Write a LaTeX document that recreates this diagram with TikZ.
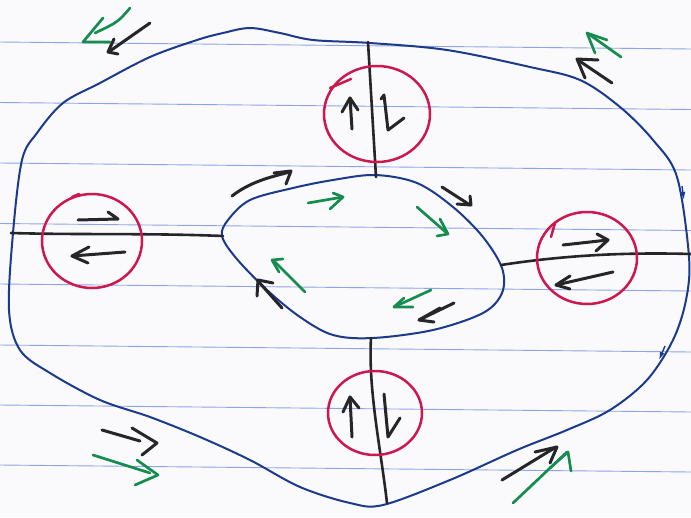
\documentclass[tikz,border=0pt]{standalone}
\usetikzlibrary{arrows.meta}
\definecolor{paper}{RGB}{250,250,252}
\definecolor{ruling}{RGB}{140,165,232}
\definecolor{loopblue}{RGB}{28,58,140}
\definecolor{ringred}{RGB}{204,24,78}
\definecolor{inkblack}{RGB}{38,38,40}
\definecolor{inkgreen}{RGB}{22,140,78}
\tikzset{
  ruleline/.style={draw=ruling, line width=0.9pt},
  loopline/.style={draw=loopblue, line width=2pt, line cap=round, line join=round},
  cutline/.style={draw=inkblack, line width=2.6pt, line cap=round},
  ring/.style={draw=ringred, line width=2.5pt, line cap=round},
  blk/.style={draw=inkblack, line width=3pt, line cap=round, line join=round},
  grn/.style={draw=inkgreen, line width=2.7pt, line cap=round, line join=round},
  tick/.style={draw=loopblue, line width=1.4pt, -{Latex[length=8pt,width=5pt]}}
}
\begin{document}
\begin{tikzpicture}[x=1pt,y=-1pt]
% sheet of ruled paper
\fill[paper] (0,0) rectangle (691,517);
\useasboundingbox (0,0) rectangle (691,517);
\foreach \yy in {42,102.5,163,223.5,284,345,405,465}
  \draw[ruleline] (0,\yy) -- (691,\yy+7);

% outer boundary
\draw[loopline] plot[smooth cycle, tension=0.55] coordinates {
  (197,40) (223,33) (250,28) (280,33) (313,40) (370,43) (447,50) (530,67)
  (580,80) (620,107) (653,140) (677,177) (689,257) (686,300) (673,340)
  (647,380) (610,410) (567,430) (517,450) (450,480) (383,505) (350,503)
  (300,487) (250,460) (200,437) (150,417) (100,400) (50,373) (20,350)
  (9,310) (13,233) (22,160) (37,133) (63,103) (100,83) (150,57)};
\draw[tick] (682,186) -- (684,200);
\draw[tick] (665,346) -- (659,360);

% inner boundary
\draw[loopline] plot[smooth cycle, tension=0.55] coordinates {
  (375,175) (417,183) (453,207) (483,237) (502,268) (502,293) (483,313)
  (433,330) (373,338) (333,335) (300,317) (267,290) (236,258) (222,236)
  (228,220) (250,200) (293,188) (333,180)};

% cuts
\coordinate (topA) at (368,42);   \coordinate (topB) at (376,177);
\coordinate (botA) at (371,338);  \coordinate (botB) at (387,503);
\coordinate (lefA) at (11,233);   \coordinate (lefB) at (223,236);
\coordinate (rgtA) at (501,265);  \coordinate (rgtB) at (691,254);
\draw[cutline] (topA) -- (topB);
\draw[cutline] (botA) .. controls (368,390) and (381,450) .. (botB);
\draw[cutline] (lefA) .. controls (80,235) and (150,233) .. (lefB);
\draw[cutline] (rgtA) .. controls (560,256) and (620,252) .. (rgtB);

% circles round the cuts
\draw[ring] (377,114) ellipse [x radius=53, y radius=48];
\draw[ring] (330,88) -- (351,79);
\draw[ring] (92,241) ellipse [x radius=50, y radius=47];
\draw[ring] (72,197) -- (79,194);
\draw[ring] (587,258) ellipse [x radius=50, y radius=46];
\draw[ring] (555,223) -- (551,237);
\draw[ring] (375,413) ellipse [x radius=47, y radius=42];

% arrows inside the circles
\draw[blk] (352,129) -- (350,98);  \draw[blk] (342,112) -- (350,98) -- (358,110);
\draw[blk] (381,99) -- (384,95) -- (388,130) -- (404,118);
\draw[blk] (78,220) -- (118,219) -- (108,212);
\draw[blk] (125,252) -- (72,256);  \draw[blk] (89,247) -- (72,256) -- (88,263);
\draw[blk] (563,245) -- (608,240); \draw[blk] (597,234) -- (608,240) -- (596,251);
\draw[blk] (613,272) -- (556,285); \draw[blk] (570,276) -- (556,285) -- (570,289);
\draw[blk] (352,437) -- (350,397); \draw[blk] (343,412) -- (350,397) -- (359,408);
\draw[blk] (384,394) -- (388,437) -- (400,418);

% arrows along the inner boundary
\draw[blk] (232,196) .. controls (250,182) and (270,177) .. (290,172);
\draw[blk] (274,173) -- (291,171) -- (286,184);
\draw[blk] (442,187) -- (470,205); \draw[blk] (457,204) -- (471,205) -- (470,196);
\draw[blk] (454,303) -- (419,320); \draw[blk] (440,308) -- (419,320) -- (434,322);
\draw[blk] (282,308) -- (258,281); \draw[blk] (257,296) -- (258,280) -- (273,283);
\draw[grn] (308,203) -- (343,197); \draw[grn] (333,193) -- (343,197) -- (330,209);
\draw[grn] (417,207) -- (448,234); \draw[grn] (440,219) -- (448,234) -- (437,236);
\draw[grn] (431,290) -- (394,307); \draw[grn] (404,298) -- (394,307) -- (413,307);
\draw[grn] (305,292) -- (273,260); \draw[grn] (283,259) -- (272,260) -- (279,272);

% arrows along the outer boundary
\draw[blk] (150,23) -- (110,51);   \draw[blk] (114,39) -- (108,52) -- (118,54);
\draw[grn] (130,8) .. controls (118,22) .. (95,33);
\draw[grn] (103,18) -- (83,42) -- (110,42);
\draw[blk] (612,83) -- (578,60);   \draw[blk] (598,60) -- (577,59) -- (585,78);
\draw[grn] (621,57) -- (590,35);   \draw[grn] (595,53) -- (587,33) -- (607,40);
\draw[blk] (102,430) -- (140,441); \draw[blk] (132,428) -- (157,443) -- (142,455);
\draw[grn] (93,455) -- (150,473);  \draw[grn] (137,460) -- (158,475) -- (135,485);
\draw[blk] (502,480) -- (556,447); \draw[blk] (535,452) -- (557,447) -- (550,463);
\draw[grn] (513,503) -- (567,452); \draw[grn] (550,468) -- (568,452) -- (571,471);
\end{tikzpicture}
\end{document}
